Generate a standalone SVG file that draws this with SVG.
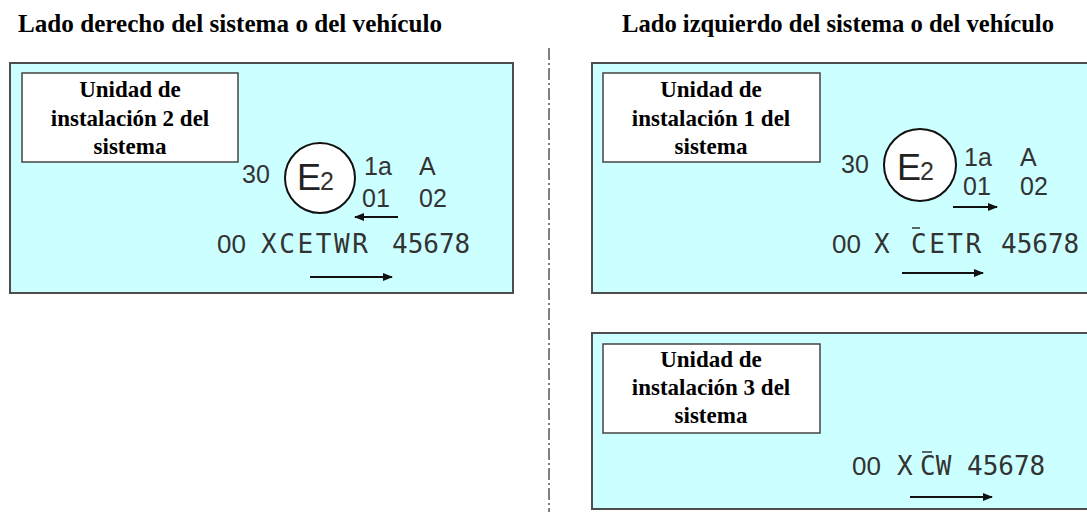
<svg xmlns="http://www.w3.org/2000/svg" width="1087" height="512" viewBox="0 0 1087 512">
<style>
.title{font-family:"Liberation Serif",serif;font-weight:bold;font-size:25px;fill:#000}
.panel{fill:#ccffff;stroke:#4d4d4d;stroke-width:2}
.lbox{fill:#fff;stroke:#444;stroke-width:1.5}
.lbl{font-family:"Liberation Serif",serif;font-weight:bold;font-size:23px;fill:#000;text-anchor:middle}
.em{font-family:"Liberation Sans",Arial,sans-serif;font-size:25px;fill:#333}
.big{font-family:"Liberation Sans",Arial,sans-serif;font-size:36px;fill:#222}
.sub{font-family:"Liberation Sans",Arial,sans-serif;font-size:25px;fill:#333}
.circ{fill:#fff;stroke:#111;stroke-width:2}
.zz{font-family:"Liberation Sans",Arial,sans-serif;font-size:26px;fill:#333}
.mono{font-family:"DejaVu Sans Mono",monospace;font-size:26px;fill:#333}
.arr{stroke:#111;stroke-width:2.2;fill:none;marker-end:url(#ah)}
.bar{stroke:#333;stroke-width:1.5}
</style>
<defs>
<marker id="ah" viewBox="0 0 10 8" refX="9" refY="4" markerWidth="10" markerHeight="8" markerUnits="userSpaceOnUse" orient="auto">
<path d="M0,0 L10,4 L0,8 Z" fill="#111"/>
</marker>
</defs>
<rect width="1087" height="512" fill="#fff"/>
<g id="titles">
<text class="title" x="18" y="32" textLength="424" lengthAdjust="spacingAndGlyphs">Lado derecho del sistema o del vehículo</text>
<text class="title" x="622" y="32" textLength="432" lengthAdjust="spacingAndGlyphs">Lado izquierdo del sistema o del vehículo</text>
</g>
<g id="divider">
<line x1="549" y1="48" x2="549" y2="512" stroke="#555" stroke-width="1.5" stroke-dasharray="12 3 2 3"/>
</g>
<g id="unit2">
<rect class="panel" x="10" y="63" width="503" height="230"/>
<rect class="lbox" x="22" y="73" width="216" height="89"/>
<text class="lbl" x="130" y="97">Unidad de</text>
<text class="lbl" x="130" y="126">instalación 2 del</text>
<text class="lbl" x="130" y="154">sistema</text>
<text class="em" x="242" y="183">30</text>
<circle class="circ" cx="320" cy="178" r="35"/>
<text class="big" x="297" y="190">E</text>
<text class="sub" x="320" y="190">2</text>
<text class="em" x="364" y="175">1a</text>
<text class="em" x="419" y="175">A</text>
<text class="em" x="362" y="207">01</text>
<text class="em" x="419" y="207">02</text>
<text class="zz" x="217" y="253">00</text>
<text class="mono" x="261" y="253" letter-spacing="2.6">XCETWR</text>
<text class="mono" x="392" y="253">45678</text>
</g>
<g id="unit1">
<rect class="panel" x="592" y="63" width="500" height="230"/>
<rect class="lbox" x="603" y="73" width="217" height="89"/>
<text class="lbl" x="711" y="97">Unidad de</text>
<text class="lbl" x="711" y="126">instalación 1 del</text>
<text class="lbl" x="711" y="154">sistema</text>
<text class="em" x="841" y="173">30</text>
<circle class="circ" cx="920" cy="165" r="36"/>
<text class="big" x="897" y="180">E</text>
<text class="sub" x="920" y="180">2</text>
<text class="em" x="964" y="166">1a</text>
<text class="em" x="1020" y="166">A</text>
<text class="em" x="963" y="195">01</text>
<text class="em" x="1020" y="195">02</text>
<text class="zz" x="832" y="253">00</text>
<text class="mono" x="874" y="253">X</text>
<text class="mono" x="911" y="253" letter-spacing="2.5">CETR</text>
<line class="bar" x1="912" y1="228" x2="920" y2="228"/>
<text class="mono" x="1001" y="253">45678</text>
</g>
<g id="unit3">
<rect class="panel" x="592" y="333" width="500" height="176"/>
<rect class="lbox" x="603" y="344" width="217" height="89"/>
<text class="lbl" x="711" y="367">Unidad de</text>
<text class="lbl" x="711" y="395">instalación 3 del</text>
<text class="lbl" x="711" y="423">sistema</text>
<text class="zz" x="852" y="475">00</text>
<text class="mono" x="897" y="475">X</text>
<text class="mono" x="920" y="475">CW</text>
<line class="bar" x1="922" y1="452" x2="932" y2="452"/>
<text class="mono" x="967" y="475">45678</text>
</g>
<g id="arrows">
<line class="arr" x1="398" y1="217" x2="355" y2="217"/>
<line class="arr" x1="310" y1="277" x2="392" y2="277"/>
<line class="arr" x1="953" y1="207" x2="997" y2="207"/>
<line class="arr" x1="902" y1="273" x2="983" y2="273"/>
<line class="arr" x1="910" y1="497" x2="992" y2="497"/>
</g>
</svg>
